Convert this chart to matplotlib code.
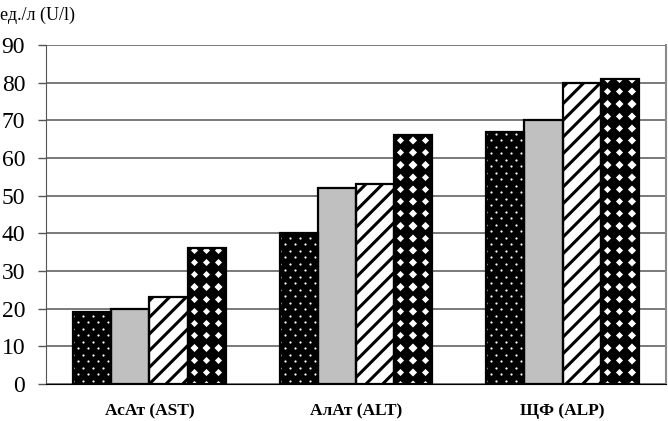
"""Liver enzyme bar chart."""

import matplotlib
matplotlib.use("Agg")
import matplotlib.pyplot as plt
import numpy as np

plt.rcParams["font.family"] = ["Liberation Serif", "DejaVu Serif"]
plt.rcParams["hatch.linewidth"] = 2.2

categories = ["АсАт (AST)", "АлАт (ALT)", "ЩФ (ALP)"]
series_1 = [19, 40, 67]
series_2 = [20, 52, 70]
series_3 = [23, 53, 80]
series_4 = [36, 66, 81]
y_ticks = [0, 10, 20, 30, 40, 50, 60, 70, 80, 90]

fig = plt.figure(figsize=(6.68, 4.21), dpi=100)
ax = fig.add_axes([46 / 668, 37 / 421, 620 / 668, 339 / 421])
ax.set_xlim(-0.5, 2.5)
ax.set_ylim(0, 90)

# data units per pixel, for pattern spacing
pos_ax = ax.get_position()
px_x = 3.0 / (pos_ax.width * fig.get_figwidth() * fig.dpi)
px_y = 90.0 / (pos_ax.height * fig.get_figheight() * fig.dpi)


def fill_pattern(bar, dx, dy, marker, size, color, stagger):
    """Scatter a repeating marker pattern clipped to one bar."""
    x0, w, h = bar.get_x(), bar.get_width(), bar.get_height()
    sx, sy = dx * px_x, dy * px_y
    pts_x, pts_y = [], []
    rows = int(h / sy) + 2
    for r in range(rows):
        off = (sx / 2) if (stagger and r % 2) else 0.0
        xs = np.arange(x0 - sx + off, x0 + w + sx, sx)
        pts_x.extend(xs)
        pts_y.extend([r * sy + sy / 2] * len(xs))
    sc = ax.scatter(pts_x, pts_y, marker=marker, s=size ** 2, c=color,
                    linewidths=0, zorder=3.5)
    sc.set_clip_path(bar)


x = np.arange(len(categories))
width = 0.185

b1 = ax.bar(x - 1.5 * width, series_1, width, color="black", linewidth=0, zorder=3)
b2 = ax.bar(x - 0.5 * width, series_2, width, color="#c0c0c0", linewidth=0, zorder=3)
b3 = ax.bar(x + 0.5 * width, series_3, width, color="white", edgecolor="black",
            hatch="//", linewidth=0, zorder=3)
b4 = ax.bar(x + 1.5 * width, series_4, width, color="white", linewidth=0, zorder=3)

for bar in b1:
    fill_pattern(bar, 10, 6.5, "o", 1.6, "white", True)
for bar in b4:
    fill_pattern(bar, 12.2, 12.2, "D", 8.6, "black", False)

for values, i in zip([series_1, series_2, series_3, series_4], range(4)):
    ax.bar(x + (i - 1.5) * width, values, width, fill=False, edgecolor="black",
           linewidth=1.6, zorder=4)

ax.set_yticks(y_ticks)
ax.yaxis.grid(True, color="#6e6e6e", linewidth=1.3, zorder=0)
ax.set_axisbelow(True)

ax.set_xticks(x)
ax.set_xticklabels(categories, fontsize=12.5, fontweight="bold")
ax.tick_params(axis="x", length=0, pad=14)
ax.tick_params(axis="y", labelsize=17, length=6, width=1, color="#555555", pad=9)

ax.spines["top"].set_visible(False)
ax.spines["left"].set_color("#555555")
ax.spines["right"].set_color("#8a8a8a")
ax.spines["right"].set_linewidth(1.5)
ax.spines["bottom"].set_color("black")

fig.text(0.0, 1 - 15 / 421, "ед./л (U/l)", fontsize=13, va="center", ha="left")

fig.savefig("out.png", dpi=100)
